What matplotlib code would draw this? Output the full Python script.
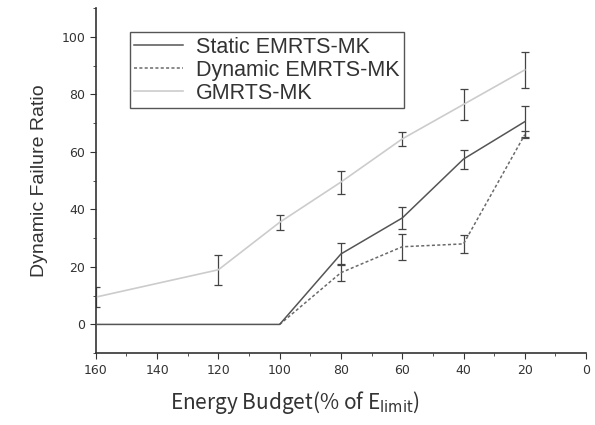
import matplotlib
matplotlib.use("Agg")
import numpy as np
import matplotlib.pyplot as plt
from matplotlib.ticker import MultipleLocator

# Energy budget (% of E_limit)
budget = [160, 120, 100, 80, 60, 40, 20]

static_x = [160, 120, 100, 80, 60, 40, 20]
static_y = [0, 0, 0, 24.5, 37, 57.5, 70.5]
static_err = [None, None, None, 3.8, 3.7, 3.3, 5.5]

dynamic_x = [100, 80, 60, 40, 20]
dynamic_y = [0, 18, 27, 28, 66]
dynamic_err = [None, 2.9, 4.5, 3.2, 1.2]

gmrts_y = [9.5, 19, 35.5, 49.5, 64.5, 76.5, 88.5]
gmrts_err = [3.5, 5.2, 2.5, 4.0, 2.5, 5.5, 6.2]


def err(vals):
    return np.array([np.nan if v is None else v for v in vals], dtype=float)


fig = plt.figure(figsize=(5.95, 4.25), dpi=100)
ax = fig.add_axes([0.161, 0.169, 0.824, 0.812])

ekw = dict(ecolor="#444444", elinewidth=0.9, capsize=3, capthick=0.9)
ax.errorbar(budget, gmrts_y, yerr=err(gmrts_err), color="#cccccc", lw=1.2,
            label="GMRTS-MK", zorder=2, **ekw)
ax.errorbar(dynamic_x, dynamic_y, yerr=err(dynamic_err), color="#6a6a6a", lw=1.1,
            ls=(0, (2, 1.5)), label="Dynamic EMRTS-MK", zorder=3, **ekw)
ax.errorbar(static_x, static_y, yerr=err(static_err), color="#555555", lw=1.1,
            label="Static EMRTS-MK", zorder=4, **ekw)

ax.set_xlim(160, 0)
ax.set_ylim(-10, 110)
ax.set_xticks([160, 140, 120, 100, 80, 60, 40, 20, 0])
ax.set_yticks([0, 20, 40, 60, 80, 100])
ax.xaxis.set_minor_locator(MultipleLocator(10))
ax.yaxis.set_minor_locator(MultipleLocator(10))
ax.spines["top"].set_visible(False)
ax.spines["right"].set_visible(False)
for s in ("left", "bottom"):
    ax.spines[s].set_color("#333333")
    ax.spines[s].set_linewidth(1.2)
ax.tick_params(which="both", color="#333333", labelcolor="#333333",
               labelsize=9, direction="out")
ax.tick_params(which="major", length=4)
ax.tick_params(which="minor", length=2.5)

ax.set_ylabel("Dynamic Failure Ratio", fontsize=14, color="#333333",
              family="Liberation Sans", labelpad=10)
ax.set_xlabel("Energy Budget(% of E$_{\\rm limit}$)", fontsize=15,
              color="#333333", family=["Noto Sans CJK JP", "DejaVu Sans"])
ax.xaxis.set_label_coords(0.405, -0.105)

handles, labels = ax.get_legend_handles_labels()
order = [2, 1, 0]
leg = ax.legend([handles[i][0] for i in order], [labels[i] for i in order],
                loc="upper left", bbox_to_anchor=(0.069, 0.93),
                borderaxespad=0,
                prop={"family": "Liberation Sans", "size": 15.5},
                fancybox=False, framealpha=1,
                edgecolor="#555555", handlelength=2.3, borderpad=0.2,
                labelspacing=0.1, handletextpad=0.6)
leg.get_frame().set_linewidth(1.0)
for t in leg.get_texts():
    t.set_color("#333333")

fig.savefig("out.png", dpi=100)
